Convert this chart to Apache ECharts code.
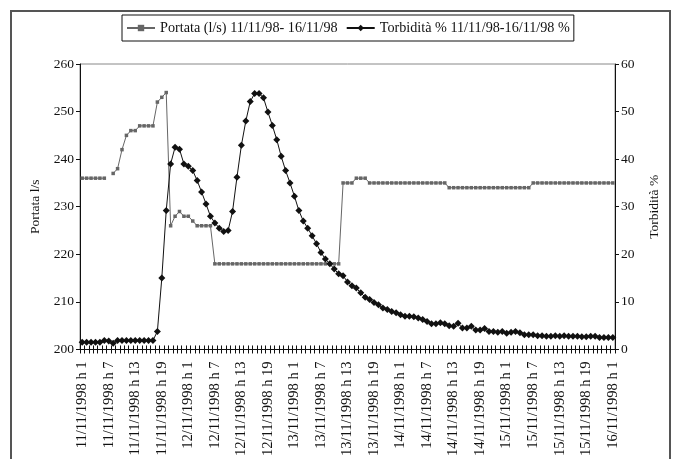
<!DOCTYPE html>
<html><head><meta charset="utf-8">
<script src="https://cdn.jsdelivr.net/npm/echarts@6/dist/echarts.min.js"></script>
<style>html,body{margin:0;padding:0;background:#fff}#c{width:676px;height:459px}</style>
</head><body><div id="c"></div>
<script>
var days = ['11/11/1998','12/11/1998','13/11/1998','14/11/1998','15/11/1998','16/11/1998'];
var hours = [1,2,3,4,5,6,7,8,9,10,11,12,13,14,15,16,17,18,19,20,21,22,23,24];
var nPoints = 121;
var categories = [];
days.forEach(function(d){ hours.forEach(function(h){ if (categories.length < nPoints) categories.push(d + ' h ' + h); }); });

var portata = [
 236,236,236,236,236,236,null,237,238,242,245,246,246,247,247,247,247,252,253,254,
 226,228,229,228,228,227,226,226,226,226,
 218,218,218,218,218,218,218,218,218,218,218,218,218,218,218,218,218,218,218,218,218,218,218,218,218,218,218,218,218,
 235,235,235,236,236,236,
 235,235,235,235,235,235,235,235,235,235,235,235,235,235,235,235,235,235,
 234,234,234,234,234,234,234,234,234,234,234,234,234,234,234,234,234,234,234,
 235,235,235,235,235,235,235,235,235,235,235,235,235,235,235,235,235,235,235
];
var torbidita = [
 1.5,1.5,1.5,1.5,1.5,1.9,1.8,1.3,1.9,1.9,1.9,1.9,1.9,1.9,1.9,1.9,1.9,3.8,15.0,29.2,
 39.0,42.5,42.1,39.0,38.5,37.6,35.5,33.1,30.6,28.0,26.6,25.5,24.8,25.0,29.0,36.2,42.9,48.0,52.1,53.8,
 53.8,52.9,49.9,47.1,44.1,40.6,37.6,35.0,32.2,29.2,27.0,25.5,23.9,22.2,20.4,19.0,18.0,16.9,15.9,15.5,
 14.2,13.4,12.9,11.9,11.0,10.5,9.9,9.4,8.7,8.4,8.0,7.7,7.3,7.0,7.0,6.9,6.6,6.3,5.9,5.4,
 5.4,5.6,5.4,5.0,4.9,5.5,4.5,4.5,4.9,4.1,4.1,4.4,3.8,3.8,3.6,3.8,3.4,3.6,3.8,3.5,
 3.1,3.1,3.1,2.9,2.9,2.8,2.8,2.9,2.8,2.9,2.8,2.8,2.8,2.7,2.7,2.8,2.8,2.5,2.5,2.5,2.5
];
var leftTicks = [200, 260, 10];
var rightTicks = [0, 60, 10];
var seriesNames = ['Portata (l/s) 11/11/98- 16/11/98', 'Torbidità % 11/11/98-16/11/98 %'];
var axisNames = ['Portata l/s', 'Torbidità %'];

var FONT = 'Liberation Serif';
var chart = echarts.init(document.getElementById('c'), null, {renderer:'canvas'});
chart.setOption({
  animation: false,
  backgroundColor: '#fff',
  textStyle: {fontFamily: FONT, color: '#111'},
  graphic: [{type:'rect', shape:{x:11, y:11, width:659, height:460}, style:{fill:'none', stroke:'#555', lineWidth:2}, silent:true}],
  legend: {
    left: 122, top: 15,
    padding: [6, 4, 6, 4],
    itemGap: 8, itemWidth: 28, itemHeight: 8,
    borderColor: '#111', borderWidth: 1,
    textStyle: {fontFamily: FONT, fontSize: 14.2, color: '#111'},
    data: seriesNames
  },
  grid: {left: 80, right: 61, top: 64, bottom: 109, show: true, borderColor: '#888', borderWidth: 1, backgroundColor: 'transparent'},
  xAxis: [{
    type: 'category', data: categories, boundaryGap: true, position: 'bottom',
    axisLine: {lineStyle: {color: '#111', width: 1}},
    axisTick: {show: true, interval: 0, length: 4, lineStyle: {color: '#111'}},
    axisLabel: {interval: 5, rotate: 90, margin: 12, fontFamily: FONT, fontSize: 14.5, color: '#111'}
  },{
    type: 'category', data: categories, boundaryGap: true, position: 'bottom', offset: 0,
    axisLine: {show: false},
    axisTick: {show: true, interval: 0, inside: true, length: 4, lineStyle: {color: '#111'}},
    axisLabel: {show: false}
  }],
  yAxis: [{
    type: 'value', min: leftTicks[0], max: leftTicks[1], interval: leftTicks[2], position: 'left',
    name: axisNames[0], nameLocation: 'middle', nameGap: 37, nameRotate: 90,
    nameTextStyle: {fontFamily: FONT, fontSize: 13.5, color: '#111'},
    axisLine: {show: true, lineStyle: {color: '#111'}},
    axisTick: {show: true, length: 4, lineStyle: {color: '#111'}},
    axisLabel: {margin: 6, fontFamily: FONT, fontSize: 13.5, color: '#111'},
    splitLine: {show: false}
  },{
    type: 'value', min: rightTicks[0], max: rightTicks[1], interval: rightTicks[2], position: 'right',
    name: axisNames[1], nameLocation: 'middle', nameGap: 32, nameRotate: 90,
    nameTextStyle: {fontFamily: FONT, fontSize: 13.5, color: '#111'},
    axisLine: {show: true, lineStyle: {color: '#111'}},
    axisTick: {show: true, length: 4, lineStyle: {color: '#111'}},
    axisLabel: {margin: 6, fontFamily: FONT, fontSize: 13.5, color: '#111'},
    splitLine: {show: false}
  }],
  series: [{
    name: seriesNames[0], type: 'line', xAxisIndex: 0, yAxisIndex: 0, data: portata,
    symbol: 'rect', symbolSize: 3.5, showAllSymbol: true, connectNulls: false,
    lineStyle: {color: '#666', width: 1}, itemStyle: {color: '#666'}
  },{
    name: seriesNames[1], type: 'line', xAxisIndex: 0, yAxisIndex: 1, data: torbidita,
    symbol: 'diamond', symbolSize: 7, showAllSymbol: true,
    lineStyle: {color: '#111', width: 1}, itemStyle: {color: '#111'}
  }]
});
</script></body></html>
